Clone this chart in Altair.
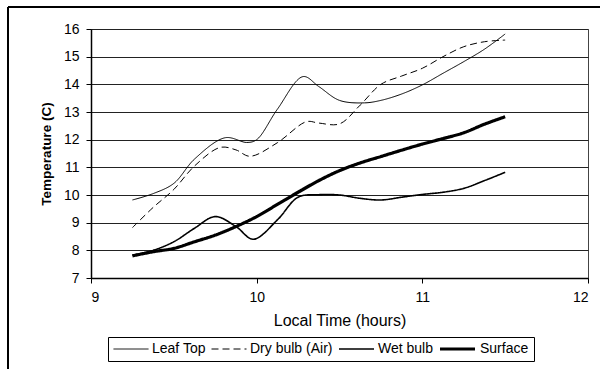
import altair as alt
import pandas as pd

# Temperature traces over the morning (hours, degrees C)
leaf_hours = [9.25, 9.375, 9.5, 9.625, 9.81, 9.94, 10.0, 10.125, 10.28,
              10.375, 10.5, 10.65, 10.75, 10.875, 11.0, 11.125, 11.25, 11.375, 11.5]
leaf_temp = [9.82, 10.05, 10.42, 11.3, 12.07, 11.9, 12.0, 13.1, 14.28,
             13.92, 13.42, 13.33, 13.42, 13.65, 13.98, 14.4, 14.82, 15.27, 15.82]

dry_hours = [9.25, 9.375, 9.5, 9.625, 9.78, 9.875, 9.96, 10.125,
             10.3, 10.375, 10.5, 10.625, 10.75, 10.875, 11.0, 11.125, 11.25, 11.375, 11.5]
dry_temp = [8.82, 9.55, 10.2, 11.05, 11.72, 11.63, 11.4, 11.89,
            12.65, 12.6, 12.57, 13.25, 14.0, 14.3, 14.58, 15.0, 15.36, 15.54, 15.6]

wet_hours = [9.25, 9.375, 9.5, 9.625, 9.75, 9.875, 9.98, 10.125, 10.25, 10.375,
             10.5, 10.625, 10.75, 10.875, 11.0, 11.125, 11.25, 11.375, 11.5]
wet_temp = [7.82, 8.0, 8.31, 8.8, 9.22, 8.86, 8.4, 9.1, 9.92, 10.01,
            10.0, 9.88, 9.82, 9.92, 10.02, 10.1, 10.24, 10.52, 10.82]

surf_hours = [9.25, 9.375, 9.5, 9.625, 9.75, 9.875, 10.0, 10.125, 10.25, 10.375,
              10.5, 10.625, 10.75, 10.875, 11.0, 11.125, 11.25, 11.375, 11.5]
surf_temp = [7.8, 7.95, 8.07, 8.31, 8.55, 8.86, 9.22, 9.66, 10.1, 10.52,
             10.88, 11.16, 11.39, 11.62, 11.84, 12.04, 12.25, 12.56, 12.83]

series_names = ["Leaf Top", "Dry bulb (Air)", "Wet bulb", "Surface"]
series_dash = [[1, 0], [7, 4], [1, 0], [1, 0]]
series_width = [1, 1, 1.6, 3.2]
y_ticks = [7, 8, 9, 10, 11, 12, 13, 14, 15, 16]
x_ticks = [9, 10, 11, 12]

frames = []
for name, hrs, temps in zip(series_names,
                            [leaf_hours, dry_hours, wet_hours, surf_hours],
                            [leaf_temp, dry_temp, wet_temp, surf_temp]):
    frames.append(pd.DataFrame({"hour": hrs, "temp": temps, "series": name}))
data = pd.concat(frames, ignore_index=True)

FONT = "Liberation Sans"

legend = alt.Legend(
    orient="none", legendX=17, legendY=308, direction="horizontal",
    title=None, symbolType="stroke", symbolSize=1225, clipHeight=14,
    symbolStrokeColor="black", labelFont=FONT, labelFontSize=14,
    labelColor="black", labelOffset=3, columnPadding=5, padding=5,
    strokeColor="black", labelLimit=300,
)

lines = alt.Chart(data).mark_line(interpolate="catmull-rom").encode(
    x=alt.X("hour:Q", scale=alt.Scale(domain=[9, 12], nice=False),
            axis=alt.Axis(values=x_ticks, title="Local Time (hours)", grid=False,
                          titleY=42, titleBaseline="middle", titleFontSize=16,
                          titleFontWeight="normal", labelPadding=7)),
    y=alt.Y("temp:Q", scale=alt.Scale(domain=[7, 16], nice=False, zero=False),
            axis=alt.Axis(values=y_ticks, title="Temperature (C)", grid=True,
                          titleX=-45, titleY=124.5, titleBaseline="middle",
                          titleAlign="center", titleFontSize=13.5,
                          titleFontWeight="bold", labelPadding=7)),
    color=alt.Color("series:O", sort=series_names,
                    scale=alt.Scale(domain=series_names, range=["black"] * 4),
                    legend=legend),
    strokeDash=alt.StrokeDash("series:O", sort=series_names,
                              scale=alt.Scale(domain=series_names, range=series_dash),
                              legend=legend),
    strokeWidth=alt.StrokeWidth("series:O", sort=series_names,
                                scale=alt.Scale(type="ordinal", domain=series_names,
                                                range=series_width),
                                legend=legend),
    order=alt.Order("hour:Q"),
)

# outer chart frame (top and left edges)
frame_top = alt.Chart(data).mark_rule(color="black", strokeWidth=1.5).encode(
    x=alt.value(-83), x2=alt.value(520), y=alt.value(-22))
frame_left = alt.Chart(data).mark_rule(color="black", strokeWidth=1.5).encode(
    x=alt.value(-83), y=alt.value(-22), y2=alt.value(360))

chart = alt.layer(lines, frame_top, frame_left).properties(
    width=497, height=249,
    padding={"left": 91, "top": 29, "right": 12, "bottom": 91},
    autosize=alt.AutoSizeParams(type="none"),
    background="white",
).configure_view(
    stroke="#444", strokeWidth=1,
).configure_axis(
    labelFont=FONT, titleFont=FONT, labelFontSize=14, labelColor="black",
    titleColor="black", domainColor="black", domainWidth=1.5,
    tickColor="black", tickSize=5, gridColor="#222", gridWidth=1, gridOpacity=1,
)

chart.save("out.html", embed_options={"renderer": "svg", "actions": False})
